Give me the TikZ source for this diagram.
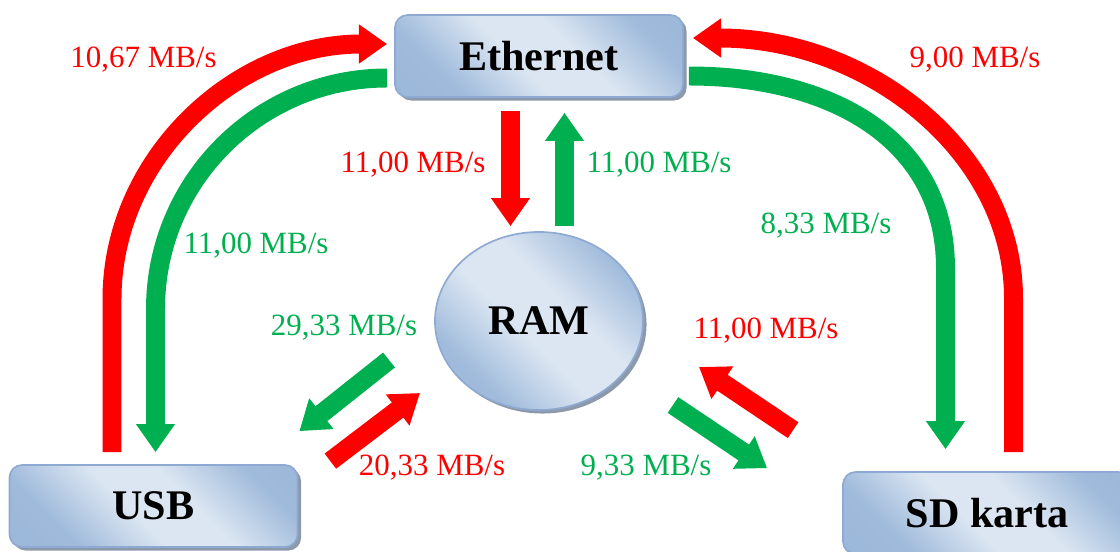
\documentclass[tikz,border=0pt]{standalone}
\usepackage{fontspec}
\setmainfont{Liberation Serif}
\usepackage{xcolor}
\usepackage{tikz}
\usetikzlibrary{positioning, arrows.meta, calc, shadows, shapes.geometric}

\definecolor{boxlight}{HTML}{DCE6F2}
\definecolor{boxdark}{HTML}{95B3D7}
\definecolor{boxedge}{HTML}{8FAAD2}
\definecolor{boxshadow}{HTML}{8C99AB}
\definecolor{ratered}{HTML}{FF0000}
\definecolor{rategreen}{HTML}{00B050}

\pgfdeclarehorizontalshading{boxshade}{100bp}{color(0bp)=(boxdark); color(28bp)=(boxdark!85!boxlight); color(45bp)=(boxlight); color(58bp)=(boxlight); color(75bp)=(boxdark!85!boxlight); color(100bp)=(boxdark)}

\tikzset{
    unit/.style={rectangle, rounded corners=9pt, draw=boxedge, line width=1.2pt,
        shading=boxshade, shading angle=45, minimum width=7.2cm, minimum height=2.05cm,
        inner sep=0pt, font=\fontsize{30}{36}\selectfont\bfseries,
        drop shadow={shadow xshift=2.5pt, shadow yshift=-2.5pt, fill=boxshadow, opacity=1}},
    memory/.style={unit, ellipse, minimum width=5.2cm, minimum height=4.45cm},
    rate/.style={font=\fontsize{22}{26}\selectfont, inner sep=0pt},
    flow/.style={line width=13.5pt, -{Triangle[width=26.5pt,length=20pt]}},
    redflow/.style={flow, draw=ratered},
    greenflow/.style={flow, draw=rategreen},
}

\begin{document}
\begin{tikzpicture}[x=0.025cm, y=-0.025cm]
    \useasboundingbox (0,0) rectangle (1120,552);

    % units
    \node[unit] (eth) at (539,56) {Ethernet};
    \node[unit] (usb) at (153.5,506) {USB};
    \node[unit] (sd) at (987,513) {SD karta};
    \node[memory] (ram) at (539,321) {RAM};

    % USB <-> Ethernet
    \draw[redflow] ($(usb.north)+(-41.5,-12)$) -- ++(0,-153)
        .. controls +(0,-141) and +(-152,0) .. ($(eth.west)+(-7,-12)$);
    \draw[greenflow] ($(eth.west)+(-7,22)$)
        .. controls +(-128,0) and +(0,-128) .. ($(usb.north)+(2,-155)$)
        -- ($(usb.north)+(2,-12)$);

    % SD karta <-> Ethernet
    \draw[redflow] ($(sd.north)+(26.5,-19)$) -- ++(0,-154)
        .. controls +(0,-145) and +(177,0) .. ($(eth.east)+(9,-18)$);
    \draw[greenflow] ($(eth.east)+(5,20)$)
        .. controls +(142,0) and +(0,-129) .. ($(sd.north)+(-41.5,-203)$)
        -- ($(sd.north)+(-41.5,-22)$);

    % Ethernet <-> RAM
    \draw[redflow] ($(eth.south)+(-28.5,13)$) -- ($(ram.north)+(-28.5,-5)$);
    \draw[greenflow] ($(ram.north)+(25.5,-5)$) -- ($(eth.south)+(25.5,15)$);

    % USB <-> RAM
    \draw[greenflow] ($(ram)+(-150,39)$) -- ($(usb.north east)+(1,-33)$);
    \draw[redflow] ($(usb.north east)+(32,-3)$) -- ($(ram)+(-119,72)$);

    % SD karta <-> RAM
    \draw[redflow] ($(sd.north west)+(-49,-41)$) -- ($(ram)+(160,46)$);
    \draw[greenflow] ($(ram)+(134,84)$) -- ($(sd.north west)+(-75,-3)$);

    % rates
    \node[rate, text=ratered] (r_usb_eth) at (143.5,60) {10,67 MB/s};
    \node[rate, text=ratered] (r_sd_eth) at (975,60) {9,00 MB/s};
    \node[rate, text=ratered] (r_eth_ram) at (413,165) {11,00 MB/s};
    \node[rate, text=rategreen] (r_ram_eth) at (659,165) {11,00 MB/s};
    \node[rate, text=rategreen] (r_eth_usb) at (256,246) {11,00 MB/s};
    \node[rate, text=rategreen] (r_eth_sd) at (826,226) {8,33 MB/s};
    \node[rate, text=rategreen] (r_ram_usb) at (344,328) {29,33 MB/s};
    \node[rate, text=ratered] (r_sd_ram) at (766,331) {11,00 MB/s};
    \node[rate, text=ratered] (r_usb_ram) at (432,468) {20,33 MB/s};
    \node[rate, text=rategreen] (r_ram_sd) at (646,468) {9,33 MB/s};
\end{tikzpicture}
\end{document}
